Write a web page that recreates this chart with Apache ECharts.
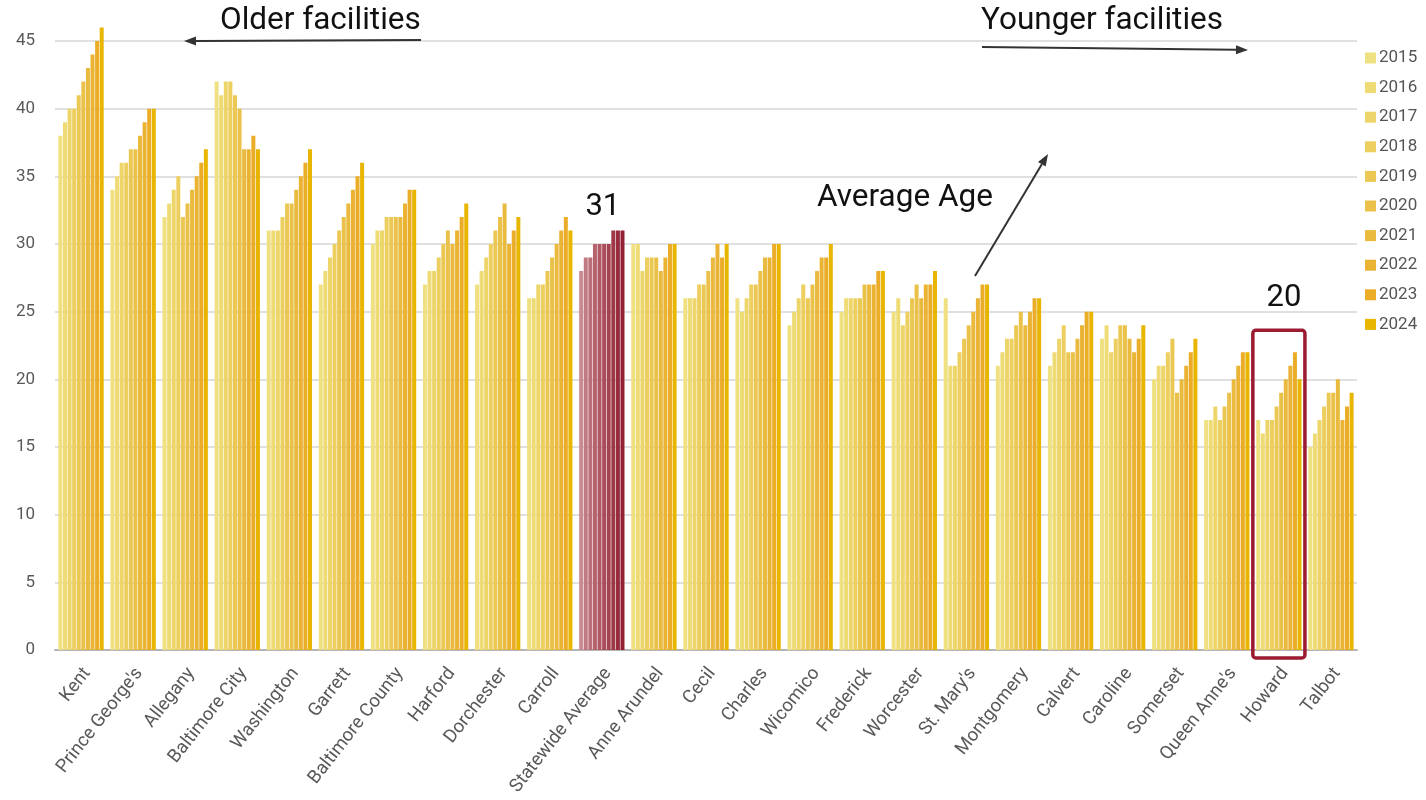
<!DOCTYPE html>
<html>
<head>
<meta charset="utf-8">
<script src="https://cdn.jsdelivr.net/npm/echarts@6/dist/echarts.min.js"></script>
<style>
  html, body { margin: 0; padding: 0; background: #fff; }
  #chart { width: 1426px; height: 800px; }
</style>
</head>
<body>
<div id="chart"></div>
<script>
// Average facility age by county, 2015-2024
const categories = ["Kent", "Prince George's", "Allegany", "Baltimore City", "Washington", "Garrett",
  "Baltimore County", "Harford", "Dorchester", "Carroll", "Statewide Average", "Anne Arundel", "Cecil",
  "Charles", "Wicomico", "Frederick", "Worcester", "St. Mary's", "Montgomery", "Calvert", "Caroline",
  "Somerset", "Queen Anne's", "Howard", "Talbot"];

const years = ["2015", "2016", "2017", "2018", "2019", "2020", "2021", "2022", "2023", "2024"];

const age2015 = [38, 34, 32, 42, 31, 27, 30, 27, 27, 26, 28, 30, 26, 26, 24, 25, 25, 26, 21, 21, 23, 20, 17, 17, 15];
const age2016 = [39, 35, 33, 41, 31, 28, 31, 28, 28, 26, 29, 30, 26, 25, 25, 26, 26, 21, 22, 22, 24, 21, 17, 16, 16];
const age2017 = [40, 36, 34, 42, 31, 29, 31, 28, 29, 27, 29, 28, 26, 26, 26, 26, 24, 21, 23, 23, 22, 21, 18, 17, 17];
const age2018 = [40, 36, 35, 42, 32, 30, 32, 29, 30, 27, 30, 29, 27, 27, 27, 26, 25, 22, 23, 24, 23, 22, 17, 17, 18];
const age2019 = [41, 37, 32, 41, 33, 31, 32, 30, 31, 28, 30, 29, 27, 27, 26, 26, 26, 23, 24, 22, 24, 23, 18, 18, 19];
const age2020 = [42, 37, 33, 40, 33, 32, 32, 31, 32, 29, 30, 29, 28, 28, 27, 27, 27, 24, 25, 22, 24, 19, 19, 19, 19];
const age2021 = [43, 38, 34, 37, 34, 33, 32, 30, 33, 30, 30, 28, 29, 29, 28, 27, 26, 25, 24, 23, 23, 20, 20, 20, 20];
const age2022 = [44, 39, 35, 37, 35, 34, 33, 31, 30, 31, 31, 29, 30, 29, 29, 27, 27, 26, 25, 24, 22, 21, 21, 21, 17];
const age2023 = [45, 40, 36, 38, 36, 35, 34, 32, 31, 32, 31, 30, 29, 30, 29, 28, 27, 27, 26, 25, 23, 22, 22, 22, 18];
const age2024 = [46, 40, 37, 37, 37, 36, 34, 33, 32, 31, 31, 30, 30, 30, 30, 28, 28, 27, 26, 25, 24, 23, 22, 20, 19];

const yearValues = [age2015, age2016, age2017, age2018, age2019, age2020, age2021, age2022, age2023, age2024];

const yTicks = [0, 5, 10, 15, 20, 25, 30, 35, 40, 45];

const averageCategory = "Statewide Average";
const highlightCategory = "Howard";

// colours
const yellows = ["#EFE181", "#EEDB75", "#EDD56A", "#ECCF5F", "#EBC854", "#EAC149", "#E9BA3E", "#EAB334", "#EBAC28", "#E8B500"];
const maroons = ["#C98A91", "#C27A82", "#BC6E78", "#B6636E", "#B05864", "#AA4D5A", "#A44250", "#9E3746", "#982C3C", "#931F33"];
const FONT = "Roboto";

const chart = echarts.init(document.getElementById("chart"), null, { renderer: "canvas" });
const avgIdx = categories.indexOf(averageCategory);

const series = years.map((yr, i) => ({
  name: yr,
  type: "bar",
  clip: false,
  barGap: "15%",
  barCategoryGap: "13%",
  itemStyle: { color: yellows[i] },
  data: yearValues[i].map((v, j) => j === avgIdx ? { value: v, itemStyle: { color: maroons[i] } } : v)
}));

chart.setOption({
  animation: false,
  textStyle: { fontFamily: FONT },
  grid: { left: 55, right: 69, top: 41, bottom: 150 },
  legend: {
    orient: "vertical",
    left: 1360,
    top: 44,
    itemWidth: 11,
    itemHeight: 11,
    itemGap: 11.6,
    icon: "rect",
    textStyle: { fontSize: 17, color: "#555", fontFamily: FONT, lineHeight: 18, padding: [0, 0, 0, -2] },
    data: years
  },
  xAxis: {
    type: "category",
    data: categories,
    axisLine: { lineStyle: { color: "#b5b5b5", width: 2 } },
    axisTick: { show: false },
    axisLabel: { rotate: 52, fontSize: 18.5, color: "#595959", margin: 28, padding: [0, -10, 0, 0],
      interval: 0, fontFamily: FONT }
  },
  yAxis: {
    type: "value",
    min: yTicks[0],
    max: yTicks[yTicks.length - 1],
    interval: yTicks[1] - yTicks[0],
    axisLine: { show: false },
    axisTick: { show: false },
    splitLine: { lineStyle: { color: "#d6d6d6", width: 1.5 } },
    axisLabel: { fontSize: 17, color: "#595959", margin: 20, fontFamily: FONT }
  },
  series: series
});

// annotation helpers
function arrow(x1, y1, x2, y2) {
  const ang = Math.atan2(y2 - y1, x2 - x1);
  const len = 12, half = 4.5;
  const bx = x2 - len * Math.cos(ang), by = y2 - len * Math.sin(ang);
  const px = -Math.sin(ang) * half, py = Math.cos(ang) * half;
  return [
    { type: "line", shape: { x1: x1, y1: y1, x2: bx, y2: by }, style: { stroke: "#333", lineWidth: 2 }, z: 100 },
    { type: "polygon", shape: { points: [[x2, y2], [bx + px, by + py], [bx - px, by - py]] }, style: { fill: "#333" }, z: 100 }
  ];
}
function label(text, x, y, size, align) {
  return { type: "text", x: x, y: y, z: 100,
    style: { text: text, fontSize: size, fontFamily: FONT, fill: "#111", align: align || "left", verticalAlign: "middle" } };
}

const xAt = c => chart.convertToPixel({ xAxisIndex: 0 }, c);
const yAt = v => chart.convertToPixel({ yAxisIndex: 0 }, v);
const bandW = xAt(categories[1]) - xAt(categories[0]);

const avgLast = age2024[avgIdx];
const hiIdx = categories.indexOf(highlightCategory);
const hiLast = age2024[hiIdx];
const hiMax = Math.max(...yearValues.map(a => a[hiIdx]));
const hiX = xAt(highlightCategory);
const hiTop = yAt(hiMax) - 22;
const hiBottom = yAt(0) + 8;

const graphics = [
  label("Older facilities", 220, 21, 31.5),
  ...arrow(421, 40, 184, 41),
  label("Younger facilities", 981, 21, 31.5),
  ...arrow(982, 47, 1248, 50),
  label("Average Age", 817, 198, 31.5),
  ...arrow(975, 276, 1048, 154),
  label(String(avgLast), xAt(averageCategory) + 1, yAt(avgLast) - 23, 31, "center"),
  {
    type: "rect", z: 100,
    shape: { x: hiX - bandW / 2, y: hiTop, width: bandW, height: hiBottom - hiTop, r: 3 },
    style: { fill: "none", stroke: "#9B1B30", lineWidth: 3.5 }
  },
  label(String(hiLast), hiX + 5, hiTop - 32, 31, "center")
];

chart.setOption({ graphic: graphics });
</script>
</body>
</html>
